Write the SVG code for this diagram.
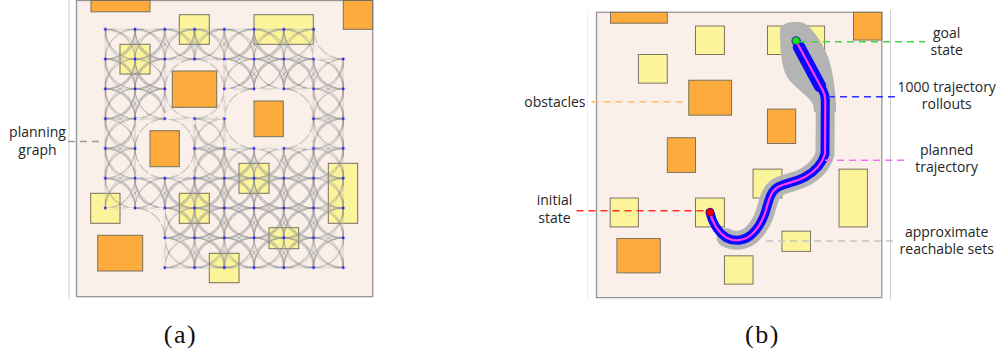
<svg xmlns="http://www.w3.org/2000/svg" width="1001" height="356" viewBox="0 0 1001 356">
<style>
  .lbl{font-family:"Open Sans","Noto Sans","Liberation Sans",sans-serif;font-size:14px;fill:#262626;text-anchor:middle}
  .cap{font-family:"Liberation Serif","DejaVu Serif",serif;font-size:26px;fill:#111;text-anchor:middle;letter-spacing:1.5px}
  .frame{fill:#faf0e9;stroke:#949494;stroke-width:1.3}
  .hard{fill:#fcab3c;stroke:#77705f;stroke-width:1}
  .soft{fill:#fcf49b;stroke:#77705f;stroke-width:1}
  .lead{fill:none;stroke-width:1.6;stroke-dasharray:7 5}
  .rule{fill:none;stroke-width:1}
  .arc{fill:none;stroke:#858585;stroke-width:0.7}
  .sc{fill:none;stroke:#959595;stroke-width:0.65}
  .cut{fill:none;stroke:#000;stroke-width:2}
</style>
<defs>
  <!-- workspace: frame and soft (yellow) obstacles -->
  <g id="field-soft">
    <rect class="frame" x="76.5" y="0.5" width="296.2" height="296.2"/>
    <rect class="soft" x="179.3" y="14.7" width="30" height="29.6"/>
    <rect class="soft" x="254" y="14.7" width="59.3" height="29.6"/>
    <rect class="soft" x="120" y="44.3" width="30" height="29.7"/>
    <rect class="soft" x="239" y="163.3" width="30" height="30"/>
    <rect class="soft" x="328.3" y="163.3" width="29.4" height="60"/>
    <rect class="soft" x="90.7" y="193.3" width="29.3" height="30"/>
    <rect class="soft" x="179.3" y="193.3" width="30" height="30"/>
    <rect class="soft" x="269" y="227.7" width="29.7" height="21"/>
    <rect class="soft" x="209.3" y="253.3" width="29.7" height="29.4"/>
  </g>
  <!-- hard (orange) obstacles -->
  <g id="field-hard">
    <rect class="hard" x="91" y="0.5" width="59" height="11.3"/>
    <rect class="hard" x="343.3" y="0.5" width="29.4" height="28.8"/>
    <rect class="hard" x="172.3" y="71" width="44.4" height="36.3"/>
    <rect class="hard" x="254" y="101" width="29.3" height="35.7"/>
    <rect class="hard" x="150" y="130.7" width="29.3" height="36"/>
    <rect class="hard" x="97.7" y="235.3" width="45" height="35.7"/>
  </g>

  <!-- lattice tile (spacing 30): straight moves and quarter-turn arcs, node at tile centre -->
  <pattern id="latEdges" patternUnits="userSpaceOnUse" x="-15" y="-15" width="30" height="30">
    <path d="M0,15H30M15,0V30" fill="none" stroke="#bdbdbd" stroke-width="0.8"/>
    <path class="arc" d="M-15,-15a30,30 0 0 0 30,30M-15,-15a30,30 0 0 1 30,30M15,-15a30,30 0 0 1 -30,30M15,-15a30,30 0 0 0 -30,30M15,-15a30,30 0 0 0 30,30M15,-15a30,30 0 0 1 30,30M45,-15a30,30 0 0 1 -30,30M45,-15a30,30 0 0 0 -30,30M-15,15a30,30 0 0 0 30,30M-15,15a30,30 0 0 1 30,30M15,15a30,30 0 0 1 -30,30M15,15a30,30 0 0 0 -30,30M15,15a30,30 0 0 0 30,30M15,15a30,30 0 0 1 30,30M45,15a30,30 0 0 1 -30,30M45,15a30,30 0 0 0 -30,30"/>
  </pattern>
  <!-- lane-change moves, split by start column/row parity -->
  <pattern id="sH0" patternUnits="userSpaceOnUse" x="0" y="-15" width="60" height="30">
    <path class="sc" d="M0,15c30,0 30,30 60,30M0,15c30,0 30,-30 60,-30M0,-15c30,0 30,30 60,30M0,45c30,0 30,-30 60,-30"/>
  </pattern>
  <pattern id="sH1" href="#sH0" x="30"/>
  <pattern id="sV0" patternUnits="userSpaceOnUse" x="-15" y="0" width="30" height="60">
    <path class="sc" d="M15,0c0,30 30,30 30,60M15,0c0,30 -30,30 -30,60M-15,0c0,30 30,30 30,60M45,0c0,30 -30,30 -30,60"/>
  </pattern>
  <pattern id="sV1" href="#sV0" y="30"/>
  <pattern id="latNodes" patternUnits="userSpaceOnUse" x="-15" y="-15" width="30" height="30">
    <circle cx="15" cy="15" r="1.4" fill="#2020ff"/>
  </pattern>

  <!-- cut-outs around a removed lattice node -->
  <g id="cutArc">
    <circle r="28.6" fill="#000"/>
    <path class="cut" d="M0,0a30,30 0 0 0 30,30M0,0a30,30 0 0 1 30,30M0,0a30,30 0 0 1 -30,30M0,0a30,30 0 0 0 -30,30M0,0a30,30 0 0 1 30,-30M0,0a30,30 0 0 0 30,-30M0,0a30,30 0 0 0 -30,-30M0,0a30,30 0 0 1 -30,-30"/>
  </g>
  <g id="cutLane">
    <circle r="36" fill="#000"/>
    <path class="cut" d="M0,0c30,0 30,30 60,30M0,0c30,0 30,-30 60,-30M0,0c-30,0 -30,30 -60,30M0,0c-30,0 -30,-30 -60,-30M0,0c0,30 30,30 30,60M0,0c0,30 -30,30 -30,60M0,0c0,-30 30,-30 30,-60M0,0c0,-30 -30,-30 -30,-60"/>
  </g>
  <circle id="cutNode" r="20" fill="#000"/>

  <mask id="edgeMask" maskUnits="userSpaceOnUse" x="-10" y="-10" width="260" height="260">
    <rect x="-10" y="-10" width="260" height="260" fill="#fff"/>
    <use href="#cutArc" x="90" y="60"/><use href="#cutArc" x="150" y="90"/><use href="#cutArc" x="180" y="90"/>
    <use href="#cutArc" x="60" y="120"/><use href="#cutArc" x="0" y="210"/><use href="#cutArc" x="30" y="210"/>
    <use href="#cutArc" x="0" y="240"/><use href="#cutArc" x="30" y="240"/><use href="#cutArc" x="240" y="0"/>
  </mask>
  <mask id="laneMask" maskUnits="userSpaceOnUse" x="-10" y="-10" width="260" height="260">
    <rect x="-10" y="-10" width="260" height="260" fill="#fff"/>
    <use href="#cutLane" x="90" y="60"/><use href="#cutLane" x="150" y="90"/><use href="#cutLane" x="180" y="90"/>
    <use href="#cutLane" x="60" y="120"/><use href="#cutLane" x="0" y="210"/><use href="#cutLane" x="30" y="210"/>
    <use href="#cutLane" x="0" y="240"/><use href="#cutLane" x="30" y="240"/><use href="#cutLane" x="240" y="0"/>
  </mask>
  <mask id="nodeMask" maskUnits="userSpaceOnUse" x="-10" y="-10" width="260" height="260">
    <rect x="-10" y="-10" width="260" height="260" fill="#fff"/>
    <use href="#cutNode" x="90" y="60"/><use href="#cutNode" x="150" y="90"/><use href="#cutNode" x="180" y="90"/>
    <use href="#cutNode" x="60" y="120"/><use href="#cutNode" x="0" y="210"/><use href="#cutNode" x="30" y="210"/>
    <use href="#cutNode" x="0" y="240"/><use href="#cutNode" x="30" y="240"/><use href="#cutNode" x="240" y="0"/>
  </mask>

  <path id="traj" d="M710,212.3 C712,222 718,232 726,237.5 C734,242 744,241 751,235 C758,229 763,220 766,210 C769,199 771,191 778,187 C785,183 796,182 805,177 C814,172 822,164 825,154 L825.3,100 Q825.3,95 822.6,90 L796,40.7"/>
</defs>

<!-- thin panel rules -->
<g id="rules">
  <line class="rule" x1="69" y1="0" x2="69" y2="299" stroke="#cfcfcf"/>
  <line class="rule" x1="587.5" y1="10" x2="587.5" y2="300" stroke="#efefef"/>
  <line class="rule" x1="890.5" y1="10" x2="890.5" y2="300" stroke="#cfcfcf"/>
</g>

<!-- (a) planning graph -->
<g id="panel-a">
  <use href="#field-soft"/>
  <g id="lattice" transform="translate(105.3,29.3) scale(0.9917,0.9933)">
    <rect x="-0.6" y="-0.6" width="241.2" height="241.2" fill="url(#latEdges)" mask="url(#edgeMask)"/>
    <g mask="url(#laneMask)">
      <rect x="0" y="-0.6" width="240" height="241.2" fill="url(#sH0)"/>
      <rect x="30" y="-0.6" width="180" height="241.2" fill="url(#sH1)"/>
      <rect x="-0.6" y="0" width="241.2" height="240" fill="url(#sV0)"/>
      <rect x="-0.6" y="30" width="241.2" height="180" fill="url(#sV1)"/>
    </g>
    <rect x="-3" y="-3" width="246" height="246" fill="url(#latNodes)" mask="url(#nodeMask)"/>
  </g>
  <use href="#field-hard"/>
</g>

<!-- (b) trajectory rollouts -->
<g id="panel-b">
  <g transform="translate(522.8,11.82) scale(0.9633)">
    <use href="#field-soft"/>
    <use href="#field-hard"/>
  </g>
  <g id="reachable-sets" fill="#b4b4b4">
    <path d="M780,30 C780,22 800,19 807,25 C815,32 823,44 828,57 C832,68 835,85 836,104 L836,112 L814,112 L813,104 C808,96 798,90 790,81 C782,72 780,55 780,30 Z"/>
    <path d="M726,237.5 C734,242 744,241 751,235 C758,229 763,220 766,210 C769,199 771,191 778,187 C785,183 796,182 805,177 C814,172 822,164 825,154 L825.3,100" fill="none" stroke="#b4b4b4" stroke-width="19" stroke-linecap="round" stroke-linejoin="round"/>
  </g>
  <g id="rollouts" fill="none" stroke="#0a0aff" stroke-linecap="round" stroke-linejoin="round">
    <use href="#traj" stroke-width="9"/>
    <path d="M799,47 L820,86" stroke-width="12.5"/>
  </g>
  <use id="planned" href="#traj" fill="none" stroke="#ff3cf0" stroke-width="2.2" stroke-linejoin="round"/>
  <g id="initial-state"><circle cx="710" cy="212.3" r="3.6" fill="#ee0000" stroke="#990000" stroke-width="0.6"/></g>
  <g id="goal-state"><circle cx="796" cy="40.7" r="3.6" fill="#22dd22" stroke="#118811" stroke-width="0.6"/></g>
</g>

<!-- leader lines -->
<g id="leaders">
  <path class="lead" d="M68,141.5H102" stroke="#9a9a9a"/>
  <path class="lead" d="M591.5,101.7H686" stroke="#fdb966"/>
  <path class="lead" d="M576.5,210.7H707" stroke="#ff2b2b"/>
  <path class="lead" d="M799,41.7H925" stroke="#3ddc3d"/>
  <path class="lead" d="M828,96.7H896" stroke="#2f2fff"/>
  <path class="lead" d="M825,160.3H905" stroke="#ff66ff"/>
  <path class="lead" d="M766,241H897" stroke="#c3c3c3"/>
</g>

<!-- labels -->
<g id="label-planning-graph"><text class="lbl" x="37.5" y="137">planning</text><text class="lbl" x="37.5" y="155">graph</text></g>
<g id="label-obstacles"><text class="lbl" x="585.5" y="106.5" style="text-anchor:end">obstacles</text></g>
<g id="label-initial"><text class="lbl" x="554.5" y="205">initial</text><text class="lbl" x="554.5" y="222.5">state</text></g>
<g id="label-goal"><text class="lbl" x="946.7" y="37.5">goal</text><text class="lbl" x="946.7" y="55">state</text></g>
<g id="label-rollouts"><text class="lbl" x="946.7" y="91.5">1000 trajectory</text><text class="lbl" x="946.7" y="108.5">rollouts</text></g>
<g id="label-planned"><text class="lbl" x="946.7" y="155">planned</text><text class="lbl" x="946.7" y="172">trajectory</text></g>
<g id="label-reachable"><text class="lbl" x="946.7" y="236.5">approximate</text><text class="lbl" x="946.7" y="254">reachable sets</text></g>

<g id="captions">
  <text class="cap" x="180.5" y="343">(a)</text>
  <text class="cap" x="762.5" y="343">(b)</text>
</g>
</svg>
